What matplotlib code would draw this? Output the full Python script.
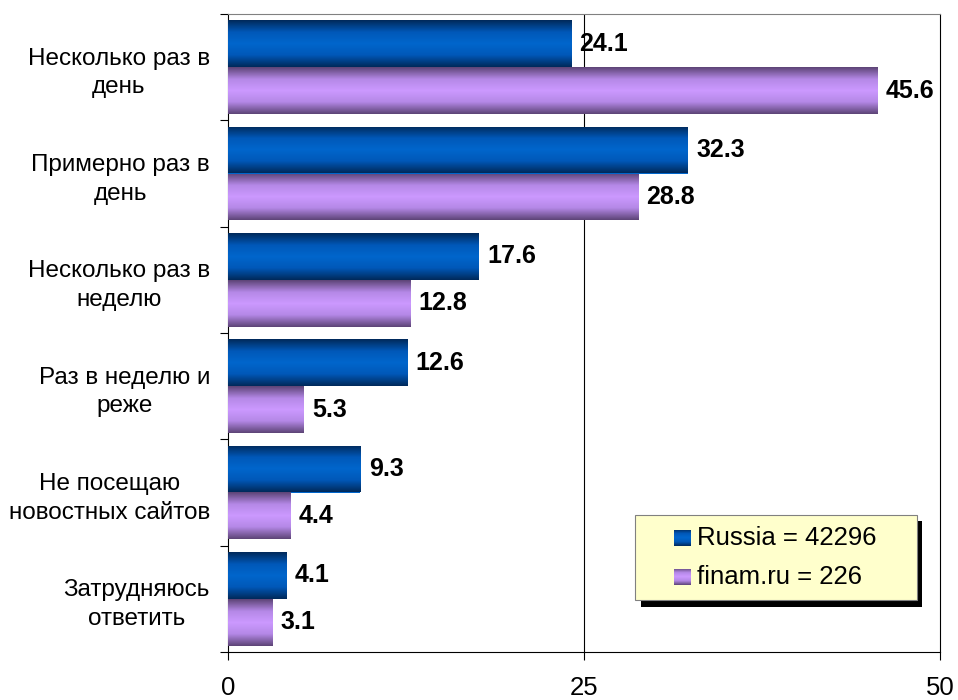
import matplotlib
matplotlib.use('Agg')
import matplotlib.pyplot as plt
import numpy as np
from matplotlib.colors import LinearSegmentedColormap
from matplotlib.patches import Rectangle

plt.rcParams['font.family'] = ['Liberation Sans', 'DejaVu Sans']

categories = ['Несколько раз в\nдень', 'Примерно раз в\nдень', 'Несколько раз в\nнеделю',
              'Раз в неделю и\nреже', 'Не посещаю\nновостных сайтов', 'Затрудняюсь\nответить']
russia = [24.1, 32.3, 17.6, 12.6, 9.3, 4.1]
finam = [45.6, 28.8, 12.8, 5.3, 4.4, 3.1]
series_labels = ['Russia = 42296', 'finam.ru = 226']
xticks = [0, 25, 50]

W, H = 958, 700
fig = plt.figure(figsize=(W / 100, H / 100), dpi=100)
ax = fig.add_axes([228 / W, 1 - 652 / H, (940 - 228) / W, (652 - 14) / H])

blue_cmap = LinearSegmentedColormap.from_list('b', ['#002a5c', '#0058b8', '#0066cc', '#0058b8', '#002a5c'])
purple_cmap = LinearSegmentedColormap.from_list('p', ['#5e4578', '#b488e6', '#cc99ff', '#b488e6', '#5e4578'])
grad = np.linspace(0, 1, 64).reshape(-1, 1)

y = np.arange(len(categories))
bh = 0.44
bars_r = ax.barh(y - bh / 2, russia, height=bh, color='#0066cc', zorder=3)
bars_f = ax.barh(y + bh / 2, finam, height=bh, color='#cc99ff', zorder=3)

for bars, cmap in [(bars_r, blue_cmap), (bars_f, purple_cmap)]:
    for b in bars:
        x0, y0 = b.get_x(), b.get_y()
        w, h = b.get_width(), b.get_height()
        im = ax.imshow(grad, cmap=cmap, aspect='auto', extent=(x0, x0 + w, y0 + h, y0),
                       zorder=4, interpolation='bilinear')
        im.set_clip_path(b)

for bars in (bars_r, bars_f):
    for b in bars:
        ax.annotate(f'{b.get_width():.1f}', (b.get_width(), b.get_y() + b.get_height() / 2),
                    xytext=(6, 0), textcoords='offset points', va='center', ha='left',
                    fontsize=18, fontweight='bold', zorder=5)

ax.set_xlim(0, 50)
ax.set_ylim(len(categories) - 0.5, -0.5)
ax.set_xticks(xticks)
ax.set_xticklabels([str(t) for t in xticks], fontsize=18.5)
ax.tick_params(axis='x', length=6, pad=11, direction='out')
ax.set_yticks(np.arange(len(categories) + 1) - 0.5)
ax.set_yticklabels([])
ax.tick_params(axis='y', which='major', length=6, direction='out')
ax.set_yticks(y, categories, minor=True)
ax.tick_params(axis='y', which='minor', length=0, pad=13, labelsize=17.5)
for lab in ax.get_yticklabels(minor=True):
    lab.set_multialignment('center')
    lab.set_linespacing(1.4)
ax.axvline(25, color='black', lw=0.8, zorder=1)
for s in ax.spines.values():
    s.set_color('black')
    s.set_linewidth(0.8)
ax.spines['top'].set_color('#808080')

# legend drawn by hand with shadow
tf = fig.transFigure
def fx(px): return px / W
def fy(py): return 1 - py / H
fig.patches.append(Rectangle((fx(641), fy(607)), fx(922) - fx(641), fy(521) - fy(607),
                             transform=tf, facecolor='black', edgecolor='none', zorder=10))
fig.patches.append(Rectangle((fx(635), fy(600)), fx(917) - fx(635), fy(515) - fy(600),
                             transform=tf, facecolor='#ffffcc', edgecolor='#808080', lw=0.8, zorder=11))
for i, (lab, cmap) in enumerate(zip(series_labels, [blue_cmap, purple_cmap])):
    cy = 538 + i * 39
    sq = fig.add_axes([fx(674), fy(cy + 8), fx(691) - fx(674), fy(cy - 8) - fy(cy + 8)], zorder=12)
    sq.imshow(grad, cmap=cmap, aspect='auto', interpolation='bilinear')
    sq.axis('off')
    fig.text(fx(697), fy(cy), lab, fontsize=18.5, va='center', ha='left', zorder=13)

fig.savefig('out.png', dpi=100)
